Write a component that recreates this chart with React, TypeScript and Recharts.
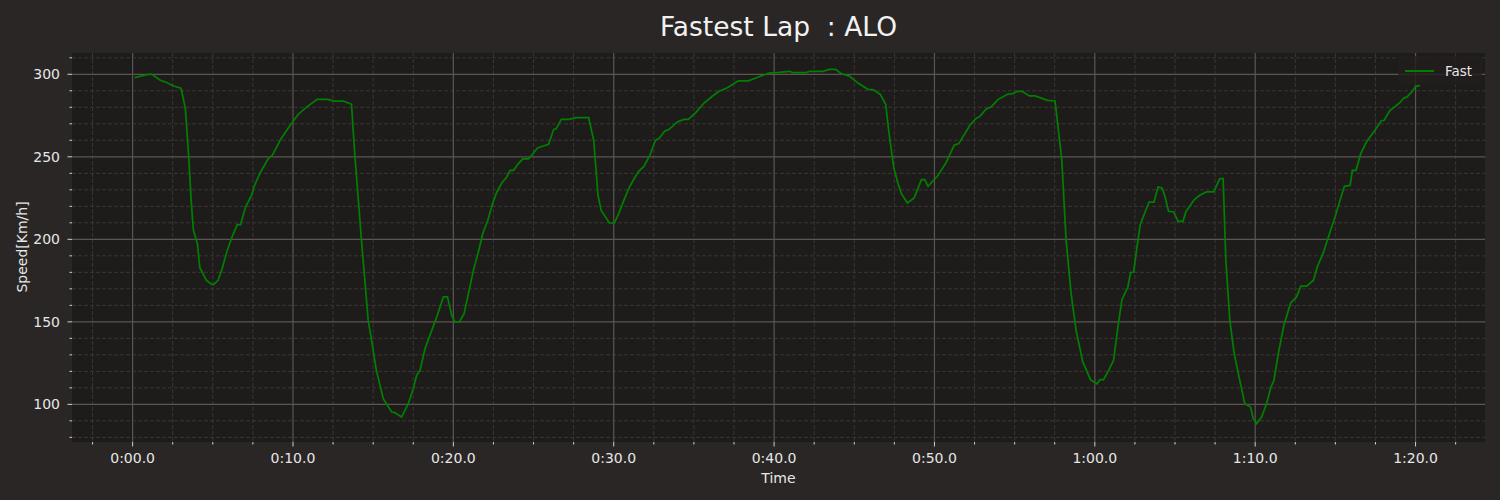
import { LineChart, Line, XAxis, YAxis, CartesianGrid } from "recharts";

// lap time in seconds
const lapTimes = [
  0.12, 1.0, 1.2, 1.73, 2.15, 2.56, 2.98, 3.04, 3.29, 3.5, 3.65, 3.79, 4.04, 4.19, 4.6, 4.92, 5.06, 5.33,
  5.58, 5.9, 6.2, 6.52, 6.73, 7.04, 7.42, 7.56, 7.98, 8.46, 8.71, 9.23, 9.75, 10.33, 10.9, 11.52, 12.15,
  12.56, 13.13, 13.65, 13.85, 14.06, 14.27, 14.48, 14.69, 14.9, 15.2, 15.63, 16.15, 16.35, 16.77, 17.19,
  17.5, 17.71, 17.92, 18.23, 18.54, 18.96, 19.38, 19.63, 19.9, 20.1, 20.38, 20.67, 20.94, 21.25, 21.56,
  21.83, 22.15, 22.44, 22.71, 23.02, 23.33, 23.54, 23.75, 24.06, 24.33, 24.69, 24.96, 25.25, 25.56, 25.94,
  26.25, 26.42, 26.73, 27.19, 27.65, 28.44, 28.75, 28.9, 29.02, 29.21, 29.73, 30.04, 30.31, 30.63, 30.98,
  31.25, 31.56, 31.88, 32.25, 32.6, 32.85, 33.17, 33.44, 33.96, 34.38, 34.65, 35.1, 35.63, 36.15, 36.56,
  37.08, 37.77, 38.4, 38.85, 39.69, 40.33, 40.96, 41.17, 42.0, 42.21, 43.04, 43.46, 43.83, 44.19, 44.71,
  45.23, 45.85, 46.17, 46.63, 46.96, 47.17, 47.46, 47.73, 47.94, 48.31, 48.73, 49.19, 49.4, 49.6, 50.23,
  50.75, 51.23, 51.52, 52.21, 52.58, 52.83, 53.25, 53.52, 53.98, 54.56, 54.88, 55.19, 55.46, 55.92, 56.27,
  57.06, 57.52, 57.73, 57.94, 58.21, 58.52, 58.83, 59.25, 59.73, 60.13, 60.33, 60.54, 60.81, 61.17, 61.44,
  61.69, 62.06, 62.23, 62.42, 62.63, 62.83, 63.38, 63.69, 63.94, 64.19, 64.35, 64.6, 64.92, 65.19, 65.5,
  65.67, 66.19, 66.54, 66.96, 67.42, 67.79, 68.0, 68.17, 68.42, 68.69, 69.04, 69.35, 69.71, 69.88, 70.08,
  70.4, 70.71, 70.98, 71.17, 71.44, 71.79, 72.21, 72.58, 72.85, 73.21, 73.63, 73.88, 74.25, 74.63, 74.98,
  75.29, 75.56, 75.92, 76.06, 76.29, 76.58, 76.96, 77.44, 77.85, 78.04, 78.38, 79.0, 79.29, 79.42, 79.71,
  80.02, 80.29,
];

// speed in km/h
const fastSpeeds = [
  298, 300, 300, 296.4, 294.9, 292.9, 291.7, 290.7, 279.2, 249.9, 223.6, 205.5, 197.4, 182.8, 175.2, 172.7, 172.7, 175.2,
  182.2, 193.3, 201.4, 208.9, 208.9, 219.6, 226.7, 231.7, 240.8, 248.9, 250.9, 260.6, 268.1, 275.8, 280.6, 284.8, 284.8,
  283.8, 283.8, 281.8, 251.9, 225.7, 199.4, 175.2, 150.9, 138.8, 120.6, 103.4, 95.4, 95, 92.3, 100.4,
  109.5, 117.6, 120.6, 133.7, 141.8, 152.9, 165.1, 165.1, 153.9, 149.9, 149.9, 154.9, 167.1, 181.2, 192.3,
  203.4, 211.5, 221.6, 228.7, 234.1, 237.8, 241.8, 241.8, 245.9, 248.7, 248.7, 251.9, 255.4, 256.4, 257.6,
  266.5, 267.1, 272.7, 272.7, 273.7, 273.7, 260, 241.8, 226.7, 217.6, 209.9, 209.9, 215.6, 223.6, 231.7,
  236.4, 241.2, 244.2, 250.9, 260, 261.4, 265.5, 266.5, 271.1, 272.7, 272.7, 276.6, 282.6, 286.7, 289.7,
  291.9, 296, 296, 297.8, 300.8, 301.2, 301.8, 301, 301, 301.8, 301.8, 303, 303, 300.4, 298.8,
  294.7, 290.9, 290.7, 287.7, 281.8, 264, 243.4, 233.7, 227.7, 222, 225.1, 236.2, 236.2, 232.1, 238.8,
  246.9, 257, 258, 269.1, 273.1, 274.5, 279.2, 280.2, 284.8, 287.9, 288.3, 289.7, 289.7, 286.9, 286.9,
  284.2, 283.8, 266.1, 247.9, 199.4, 167.1, 144.9, 125.7, 115, 112.5, 115, 115, 119.6, 126.7, 146.9,
  163.4, 171.1, 179.8, 180.2, 195.4, 208.9, 222.6, 222.6, 231.7, 231.1, 226.7, 217, 216.6, 210.9, 210.9,
  216.6, 224, 226.7, 228.7, 228.7, 236.8, 236.8, 187.3, 150.9, 130.7, 114.5, 100.4, 98.4, 91.3, 88.3,
  92.3, 100.4, 110.5, 114.5, 130.7, 147.9, 161.4, 165.1, 171.7, 171.7, 175.2, 183.6, 191.9, 203.4, 213.5,
  223.6, 232.1, 232.7, 241.8, 241.8, 251.9, 259.4, 265.7, 271.7, 272.1, 277.8, 282.6, 285.9, 285.9, 288.7,
  292.7, 293.3,
];

const xMajorTicks = [0, 10, 20, 30, 40, 50, 60, 70, 80];
const xMinorTicks = [-2.5, 2.5, 5, 7.5, 12.5, 15, 17.5, 22.5, 25, 27.5, 32.5, 35, 37.5, 42.5, 45, 47.5, 52.5, 55, 57.5, 62.5, 65, 67.5, 72.5, 75, 77.5, 82.5];
const yMajorTicks = [100, 150, 200, 250, 300];
const yMinorTicks = [80, 90, 110, 120, 130, 140, 160, 170, 180, 190, 210, 220, 230, 240, 260, 270, 280, 290, 310];

const data = lapTimes.map((t, i) => ({ time: t, fast: fastSpeeds[i] }));

const BG = "#292625";
const PLOT_BG = "#1e1c1b";
const TEXT = "#e6e6e6";
const FONT = "'DejaVu Sans', sans-serif";

function fmtTime(s: number) {
  const m = Math.floor(s / 60);
  const sec = s - m * 60;
  return `${m}:${sec.toFixed(1).padStart(4, "0")}`;
}

const XTick = ({ x, y, payload }: any) => {
  const major = payload.value % 10 === 0;
  return (
    <g>
      <line x1={x} x2={x} y1={y} y2={y + (major ? 4.5 : 2.5)} stroke="#d0d0d0" strokeWidth={1} />
      {major && (
        <text x={x} y={y + 20.5} textAnchor="middle" fill={TEXT} fontSize={14} fontFamily={FONT}>
          {fmtTime(payload.value)}
        </text>
      )}
    </g>
  );
};

const YTick = ({ x, y, payload }: any) => {
  const major = payload.value % 50 === 0;
  return (
    <g>
      <line x1={x - (major ? 4.5 : 2.5)} x2={x} y1={y} y2={y} stroke="#d0d0d0" strokeWidth={1} />
      {major && (
        <text x={x - 12} y={y + 5} textAnchor="end" fill={TEXT} fontSize={14} fontFamily={FONT}>
          {payload.value}
        </text>
      )}
    </g>
  );
};

export default function App() {
  const allX = [...xMinorTicks, ...xMajorTicks].sort((a, b) => a - b);
  const allY = [...yMinorTicks, ...yMajorTicks].sort((a, b) => a - b);
  return (
    <div style={{ position: "relative", width: 1500, height: 500, background: BG, fontFamily: FONT }}>
      <style>{"body{margin:0}"}</style>
      <div style={{ position: "absolute", left: 72, width: 1413, top: 11, textAlign: "center", color: "#f2f2f2", fontSize: 26.5 }}>
        Fastest Lap&nbsp;&nbsp;: ALO
      </div>
      <LineChart width={1500} height={500} data={data} margin={{ top: 53, right: 15, bottom: 0, left: 0 }}>
        <CartesianGrid
          fill={PLOT_BG}
          stroke="#3a3634"
          strokeDasharray="4 2"
          horizontalValues={yMinorTicks}
          verticalValues={xMinorTicks}
        />
        <CartesianGrid
          stroke="#5c5553"
          strokeWidth={1.2}
          horizontalValues={yMajorTicks}
          verticalValues={xMajorTicks}
        />
        <XAxis
          dataKey="time"
          type="number"
          domain={[-3.78, 84.33]}
          ticks={allX}
          interval={0}
          height={58}
          axisLine={false}
          tickLine={false}
          tickSize={0}
          tickMargin={0}
          tick={<XTick />}
        />
        <YAxis
          type="number"
          domain={[77.2, 312.9]}
          ticks={allY}
          interval={0}
          width={72}
          axisLine={false}
          tickLine={false}
          tickSize={0}
          tickMargin={0}
          tick={<YTick />}
        />
        <Line
          dataKey="fast"
          type="linear"
          stroke="#008000"
          strokeWidth={1.7}
          dot={false}
          isAnimationActive={false}
        />
      </LineChart>
      <div style={{ position: "absolute", left: 72, width: 1413, top: 470, textAlign: "center", color: TEXT, fontSize: 14 }}>
        Time
      </div>
      <div
        style={{
          position: "absolute",
          left: 22,
          top: 247,
          transform: "translate(-50%, -50%) rotate(-90deg)",
          color: TEXT,
          fontSize: 14,
          whiteSpace: "nowrap",
        }}
      >
        Speed[Km/h]
      </div>
      <div
        style={{
          position: "absolute",
          left: 1398,
          top: 56,
          width: 84,
          height: 29,
          background: "rgba(32,30,29,0.8)",
          borderRadius: 3,
          display: "flex",
          alignItems: "center",
        }}
      >
        <div style={{ width: 29, height: 2, background: "#008000", marginLeft: 7 }} />
        <span style={{ color: TEXT, fontSize: 13.5, marginLeft: 11 }}>Fast</span>
      </div>
    </div>
  );
}
